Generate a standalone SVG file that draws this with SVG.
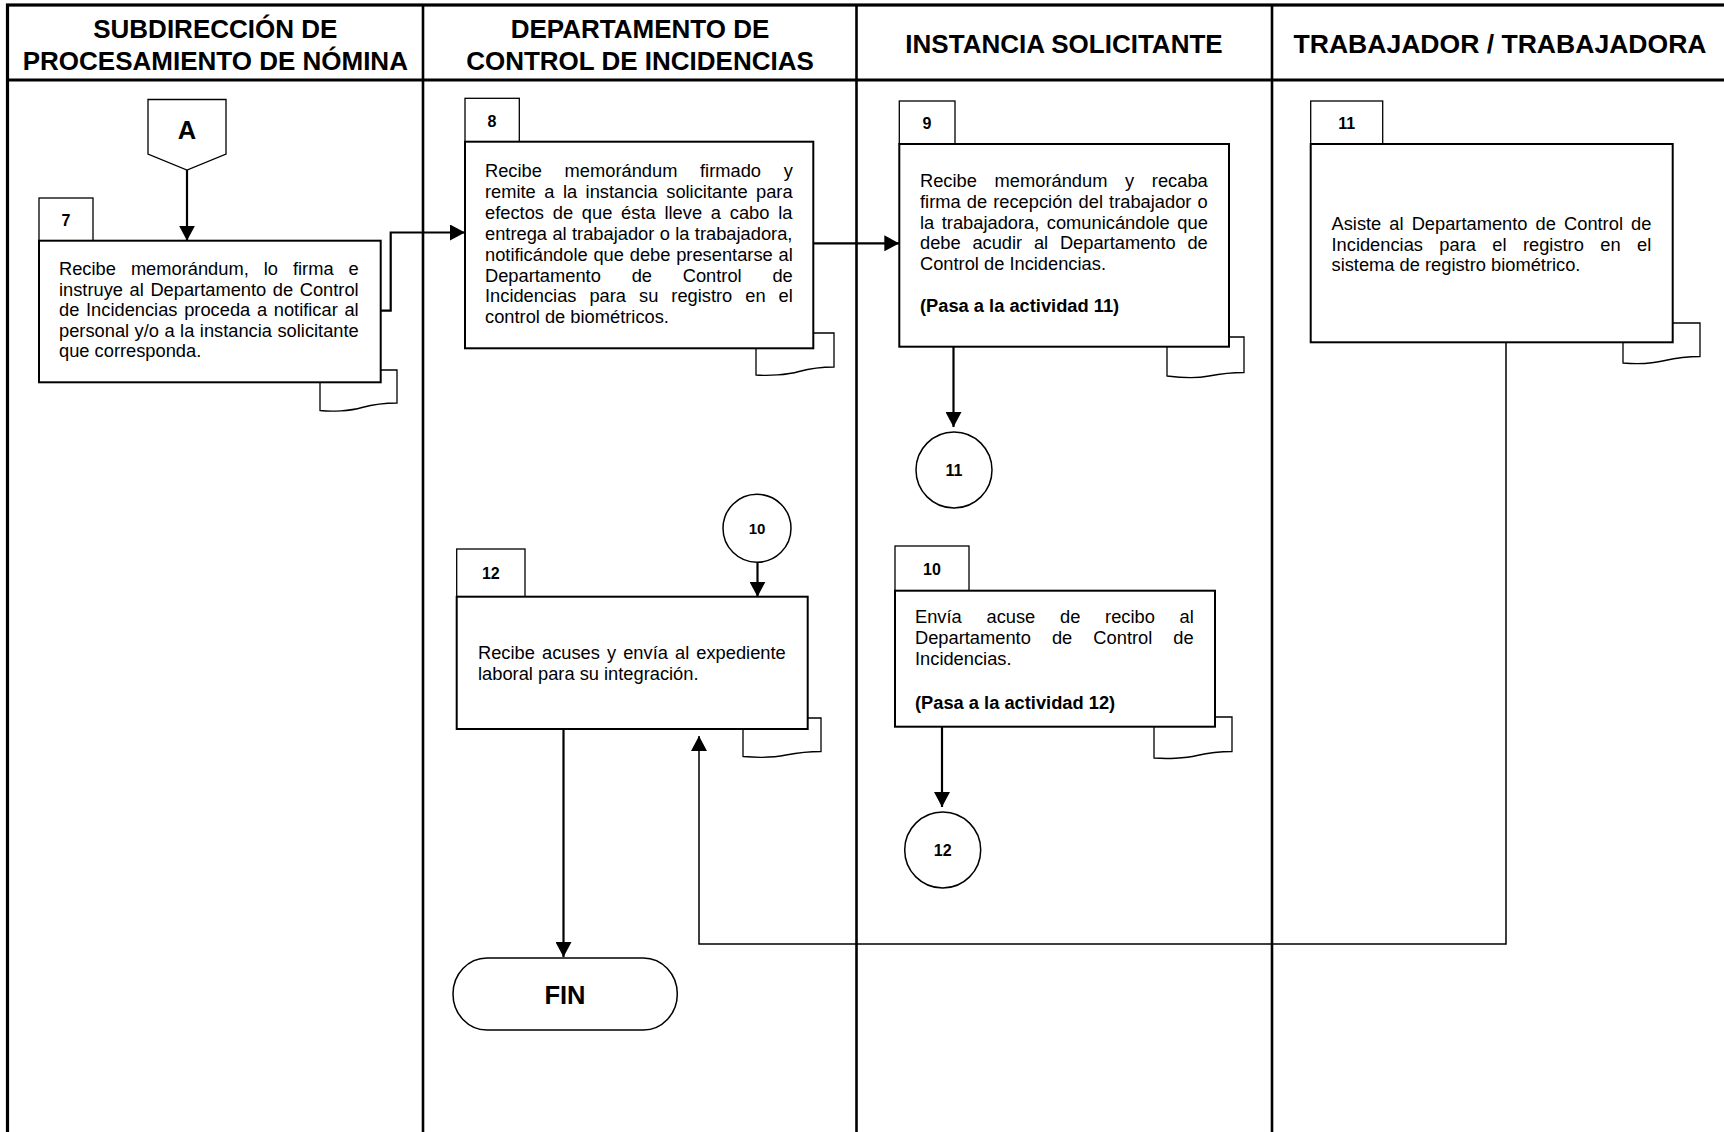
<svg xmlns="http://www.w3.org/2000/svg" width="1724" height="1132" viewBox="0 0 1724 1132">
  <style>
    .frame{fill:none;stroke:#000;stroke-width:3.2}
    .lane{fill:none;stroke:#000;stroke-width:2.6}
    .hdr{font-family:"Liberation Sans",Arial,sans-serif;font-weight:bold;font-size:26px;text-anchor:middle;fill:#000}
    .box{fill:#fff;stroke:#000;stroke-width:2}
    .tab{fill:#fff;stroke:#000;stroke-width:1.3}
    .doc{fill:#fff;stroke:#000;stroke-width:1.3}
    .term{fill:#fff;stroke:#000;stroke-width:1.5}
    .num{font-family:"Liberation Sans",Arial,sans-serif;font-weight:bold;font-size:16px;text-anchor:middle;fill:#000}
    .big{font-family:"Liberation Sans",Arial,sans-serif;font-weight:bold;font-size:25.5px;text-anchor:middle;fill:#000}
    .body{font-family:"Liberation Sans",Arial,sans-serif;font-size:18.3px;fill:#000}
    .b{font-weight:bold}
    .conn{fill:none;stroke:#000;stroke-width:2.2}
    .thin{stroke-width:1.5}
  </style>
  <defs>
    <marker id="arrow" viewBox="0 0 15 16" refX="15" refY="8" markerWidth="15" markerHeight="16" markerUnits="userSpaceOnUse" orient="auto">
      <path d="M0,0 L15,8 L0,16 Z" fill="#000"/>
    </marker>
  </defs>

  <!-- swimlane table -->
  <g id="lanes">
    <rect class="frame" x="7.5" y="5" width="1722" height="1140"/>
    <line class="frame" x1="7.5" y1="80" x2="1730" y2="80"/>
    <line class="lane" x1="423" y1="5" x2="423" y2="1140"/>
    <line class="lane" x1="856.5" y1="5" x2="856.5" y2="1140"/>
    <line class="lane" x1="1272" y1="5" x2="1272" y2="1140"/>
    <text class="hdr" x="215.3" y="37.5">SUBDIRECCIÓN DE</text>
    <text class="hdr" x="215.3" y="69.5">PROCESAMIENTO DE NÓMINA</text>
    <text class="hdr" x="640" y="37.5">DEPARTAMENTO DE</text>
    <text class="hdr" x="640" y="69.5">CONTROL DE INCIDENCIAS</text>
    <text class="hdr" x="1064" y="53">INSTANCIA SOLICITANTE</text>
    <text class="hdr" x="1500" y="53" textLength="413" lengthAdjust="spacingAndGlyphs">TRABAJADOR / TRABAJADORA</text>
  </g>

  <!-- off-page connector A -->
  <g id="conn-A">
    <polygon class="tab" points="148,99.5 226,99.5 226,154 187,170 148,154"/>
    <text class="big" x="187" y="139">A</text>
  </g>

  <!-- activity 7 -->
  <g id="act7">
    <path class="doc" d="M320,370 H397 V403 C385,403 375,404 362,407.5 C350,411 332,412 320,410.5 Z"/>
    <rect class="tab" x="39" y="198" width="54" height="42.7"/>
    <text class="num" x="66" y="225.5">7</text>
    <rect class="box" x="39" y="240.7" width="341.7" height="141.6"/>
    <text class="body" x="59" y="275" word-spacing="9.9">Recibe memorándum, lo firma e</text>
    <text class="body" x="59" y="295.6" word-spacing="1.5">instruye al Departamento de Control</text>
    <text class="body" x="59" y="316.2" word-spacing="1.6">de Incidencias proceda a notificar al</text>
    <text class="body" x="59" y="336.8" word-spacing="0.4">personal y/o a la instancia solicitante</text>
    <text class="body" x="59" y="357.4">que corresponda.</text>
  </g>

  <!-- activity 8 -->
  <g id="act8">
    <path class="doc" d="M756,333 H834 V367 C822,367 812,368 799,371.5 C787,375 768,376 756,375 Z"/>
    <rect class="tab" x="465" y="98.3" width="54.3" height="43.4"/>
    <text class="num" x="492" y="126.5">8</text>
    <rect class="box" x="465" y="141.7" width="348.3" height="206.6"/>
    <text class="body" x="485" y="177" word-spacing="17.6">Recibe memorándum firmado y</text>
    <text class="body" x="485" y="197.9" word-spacing="3.4">remite a la instancia solicitante para</text>
    <text class="body" x="485" y="218.8" word-spacing="3.7">efectos de que ésta lleve a cabo la</text>
    <text class="body" x="485" y="239.7" word-spacing="0.3">entrega al trabajador o la trabajadora,</text>
    <text class="body" x="485" y="260.6" word-spacing="0.7">notificándole que debe presentarse al</text>
    <text class="body" x="485" y="281.5" word-spacing="25.7">Departamento de Control de</text>
    <text class="body" x="485" y="302.4" word-spacing="7.9">Incidencias para su registro en el</text>
    <text class="body" x="485" y="323.3">control de biométricos.</text>
  </g>

  <!-- activity 9 -->
  <g id="act9">
    <path class="doc" d="M1167,337 H1244 V372.5 C1232,372.5 1222,373.5 1209,376 C1197,378.5 1179,377.5 1167,376 Z"/>
    <rect class="tab" x="899.3" y="101" width="55.7" height="43"/>
    <text class="num" x="927" y="128.5">9</text>
    <rect class="box" x="899.3" y="144" width="329.7" height="202.7"/>
    <text class="body" x="920" y="187" word-spacing="12.6">Recibe memorándum y recaba</text>
    <text class="body" x="920" y="207.8" word-spacing="1.04">firma de recepción del trabajador o</text>
    <text class="body" x="920" y="228.6" word-spacing="2.43">la trabajadora, comunicándole que</text>
    <text class="body" x="920" y="249.4" word-spacing="6.65">debe acudir al Departamento de</text>
    <text class="body" x="920" y="270.2">Control de Incidencias.</text>
    <text class="body b" x="920" y="311.8">(Pasa a la actividad 11)</text>
  </g>

  <!-- connector 11 -->
  <g id="circle11">
    <circle class="term" cx="954" cy="470" r="38"/>
    <text class="num" x="954" y="475.8">11</text>
  </g>

  <!-- activity 10 -->
  <g id="act10">
    <path class="doc" d="M1154,717 H1232 V751.5 C1220,751.5 1210,752.5 1197,755.5 C1185,758.5 1166,759 1154,758 Z"/>
    <rect class="tab" x="895" y="546" width="74" height="44.7"/>
    <text class="num" x="932" y="574.8">10</text>
    <rect class="box" x="895" y="590.7" width="320" height="136"/>
    <text class="body" x="915" y="622.5" word-spacing="19.65">Envía acuse de recibo al</text>
    <text class="body" x="915" y="643.5" word-spacing="16">Departamento de Control de</text>
    <text class="body" x="915" y="664.5">Incidencias.</text>
    <text class="body b" x="915" y="708.5">(Pasa a la actividad 12)</text>
  </g>

  <!-- connector 12 -->
  <g id="circle12">
    <circle class="term" cx="942.7" cy="850" r="38"/>
    <text class="num" x="942.7" y="855.8">12</text>
  </g>

  <!-- activity 11 -->
  <g id="act11">
    <path class="doc" d="M1623,323 H1700 V356.5 C1688,356.5 1678,357.5 1665,360.5 C1653,363.5 1635,364 1623,363 Z"/>
    <rect class="tab" x="1310.7" y="101" width="72" height="43"/>
    <text class="num" x="1346.7" y="128.5">11</text>
    <rect class="box" x="1310.7" y="144" width="362" height="198.3"/>
    <text class="body" x="1331.5" y="229.8" word-spacing="3">Asiste al Departamento de Control de</text>
    <text class="body" x="1331.5" y="250.6" word-spacing="11.3">Incidencias para el registro en el</text>
    <text class="body" x="1331.5" y="271.4">sistema de registro biométrico.</text>
  </g>

  <!-- connector 10 -->
  <g id="circle10">
    <circle class="term" cx="757" cy="528.3" r="34"/>
    <text class="num" x="757" y="533.6" style="font-size:15px">10</text>
  </g>

  <!-- activity 12 -->
  <g id="act12">
    <path class="doc" d="M743,718 H821 V751.5 C809,751.5 799,752.5 786,755 C774,757.5 755,757.5 743,756.5 Z"/>
    <rect class="tab" x="456.7" y="549" width="68.3" height="47.7"/>
    <text class="num" x="490.8" y="578.5">12</text>
    <rect class="box" x="456.7" y="596.7" width="351" height="132.3"/>
    <text class="body" x="478" y="658.5" word-spacing="2">Recibe acuses y envía al expediente</text>
    <text class="body" x="478" y="679.5">laboral para su integración.</text>
  </g>

  <!-- end terminator -->
  <g id="fin">
    <rect class="term" x="453" y="958" width="224.3" height="72" rx="34" ry="36"/>
    <text class="big" x="565" y="1004">FIN</text>
  </g>

  <!-- flow lines -->
  <g id="connectors">
    <path class="conn" d="M187,170 V240.7" marker-end="url(#arrow)"/>
    <path class="conn" d="M380.7,310.7 H390.7 V232.5 H465" marker-end="url(#arrow)"/>
    <path class="conn" d="M813.3,243.3 H899.3" marker-end="url(#arrow)"/>
    <path class="conn" d="M953.5,346.7 V427" marker-end="url(#arrow)"/>
    <path class="conn" d="M757.5,562.3 V596.7" marker-end="url(#arrow)"/>
    <path class="conn" d="M942,726.7 V807" marker-end="url(#arrow)"/>
    <path class="conn" d="M563.5,729 V957" marker-end="url(#arrow)"/>
    <path class="conn thin" d="M1506,342.3 V944 H699 V736" marker-end="url(#arrow)"/>
  </g>
</svg>
